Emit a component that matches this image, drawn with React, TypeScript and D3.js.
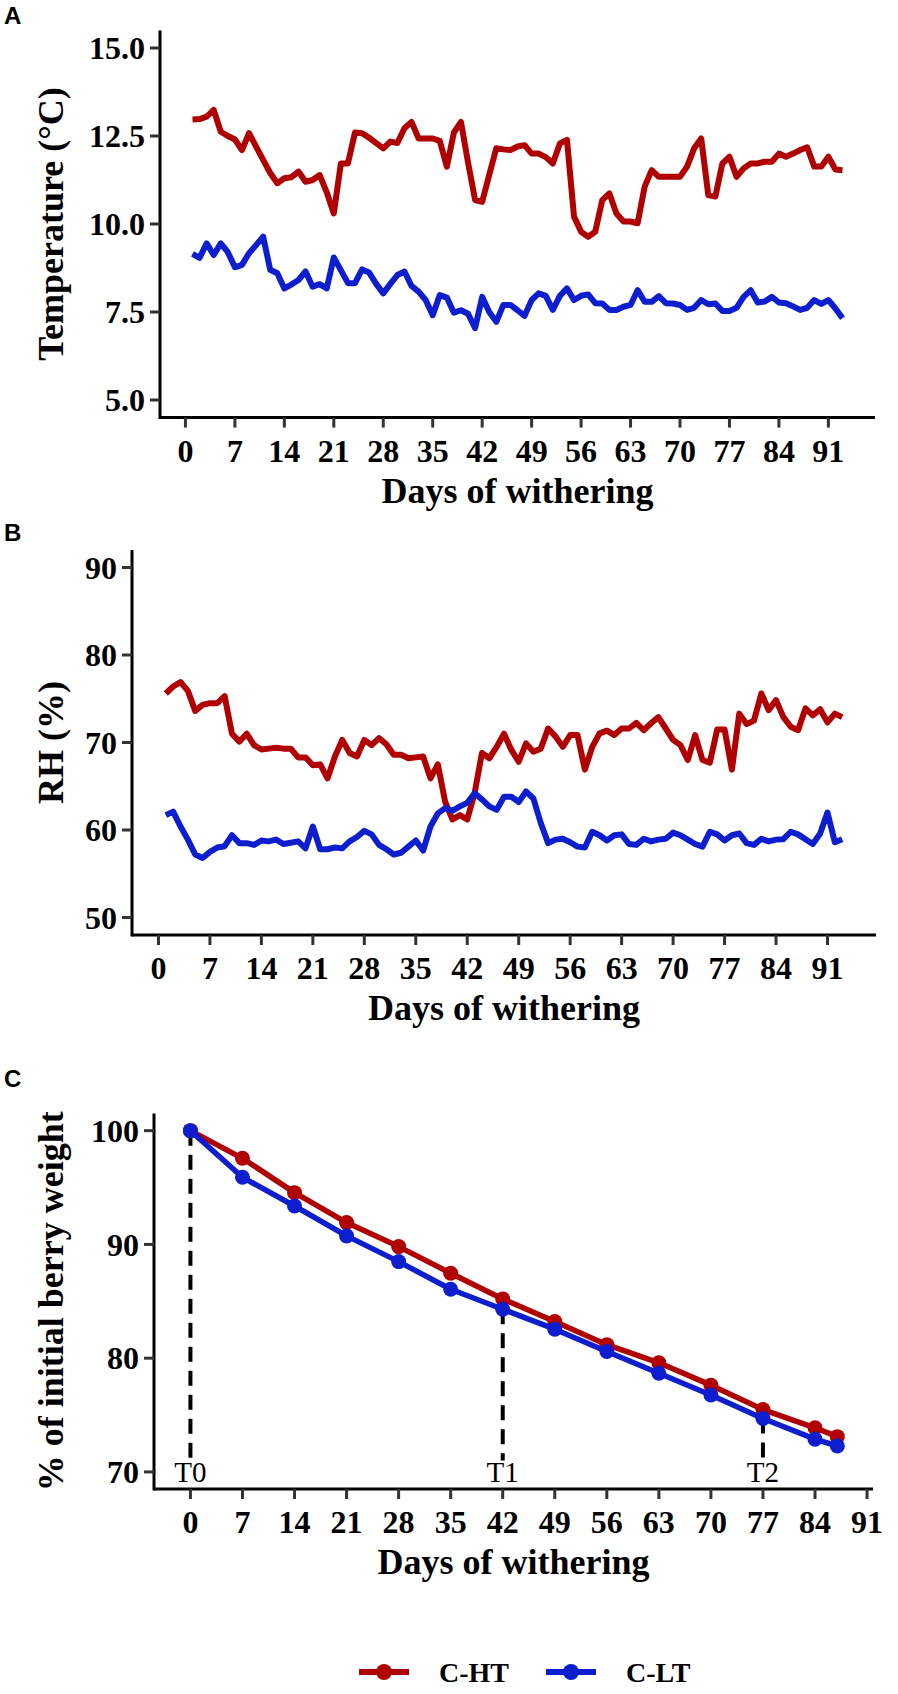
import * as d3 from "d3";
import React from "react";

const W = 898;
const H = 1694;

const red = "#B00000";
const blue = "#0D1ECF";
const serif = "'Liberation Serif', 'Times New Roman', serif";
const sans = "'Liberation Sans', Arial, sans-serif";

// daily series, days 1..93
const days = d3.range(1, 94);

const tempHT = [
  12.97, 12.98, 13.05, 13.24, 12.62, 12.5, 12.4, 12.1, 12.58, 12.2,
  11.82, 11.45, 11.16, 11.3, 11.33, 11.49, 11.2, 11.25, 11.39, 10.9,
  10.3, 11.72, 11.72, 12.6, 12.58, 12.45, 12.3, 12.15, 12.34, 12.3,
  12.72, 12.9, 12.43, 12.43, 12.43, 12.36, 11.63, 12.6, 12.9, 11.75,
  10.68, 10.63, 11.4, 12.15, 12.12, 12.1, 12.2, 12.24, 12.0, 12.0,
  11.9, 11.72, 12.29, 12.39, 10.21, 9.78, 9.64, 9.78, 10.68, 10.87,
  10.3, 10.07, 10.07, 10.02, 11.06, 11.53, 11.34, 11.34, 11.34, 11.34,
  11.63, 12.15, 12.43, 10.82, 10.78, 11.72, 11.91, 11.34, 11.58, 11.72,
  11.72, 11.77, 11.77, 12.0, 11.91, 12.0, 12.1, 12.18, 11.63, 11.63,
  11.91, 11.55, 11.53,
];

const tempLT = [
  9.15, 9.04, 9.45, 9.12, 9.45, 9.2, 8.77, 8.84, 9.17, 9.4,
  9.64, 8.7, 8.6, 8.17, 8.28, 8.41, 8.65, 8.22, 8.29, 8.17,
  9.05, 8.69, 8.32, 8.32, 8.71, 8.62, 8.3, 8.03, 8.3, 8.55,
  8.65, 8.24, 8.08, 7.84, 7.41, 7.98, 7.91, 7.48, 7.55, 7.45,
  7.04, 7.93, 7.5, 7.22, 7.7, 7.7, 7.55, 7.39, 7.84, 8.03,
  7.96, 7.56, 7.96, 8.17, 7.84, 7.96, 8.0, 7.75, 7.74, 7.56,
  7.56, 7.65, 7.7, 8.12, 7.79, 7.79, 7.95, 7.75, 7.74, 7.7,
  7.56, 7.62, 7.84, 7.72, 7.74, 7.53, 7.53, 7.62, 7.93, 8.12,
  7.77, 7.8, 7.93, 7.77, 7.75, 7.66, 7.56, 7.62, 7.84, 7.73,
  7.84, 7.6, 7.32,
];

const rhHT = [
  75.6, 76.4, 76.9, 75.9, 73.6, 74.3, 74.5, 74.5, 75.3, 71.0,
  70.1, 71.0, 69.7, 69.2, 69.3, 69.4, 69.3, 69.3, 68.3, 68.3,
  67.4, 67.5, 65.9, 68.4, 70.3, 68.8, 68.4, 70.3, 69.7, 70.5,
  69.8, 68.6, 68.6, 68.2, 68.3, 68.4, 65.9, 67.5, 63.2, 61.2,
  61.7, 61.2, 64.2, 68.8, 68.2, 69.5, 71.0, 69.15, 67.8, 69.9,
  68.95, 69.3, 71.6, 70.7, 69.5, 70.85, 70.85, 66.9, 69.5, 71.05,
  71.35, 70.85, 71.6, 71.6, 72.25, 71.4, 72.2, 72.9, 71.6, 70.3,
  69.7, 68.0, 70.85, 68.0, 67.7, 71.5, 71.5, 66.9, 73.3, 72.1,
  72.5, 75.6, 73.7, 74.85, 72.9, 71.8, 71.4, 73.9, 73.1, 73.8,
  72.3, 73.3, 72.9,
];

const rhLT = [
  61.7, 62.1, 60.4, 58.9, 57.2, 56.8, 57.5, 58.0, 58.15, 59.4,
  58.5, 58.5, 58.3, 58.8, 58.7, 58.9, 58.4, 58.55, 58.7, 57.9,
  60.4, 57.8, 57.8, 58.0, 57.9, 58.7, 59.2, 59.9, 59.5, 58.3,
  57.8, 57.2, 57.4, 58.1, 58.8, 57.65, 60.4, 61.9, 62.5, 62.2,
  62.7, 63.1, 64.2, 63.5, 62.7, 62.3, 63.8, 63.8, 63.2, 64.4,
  63.6, 60.8, 58.5, 58.9, 59.0, 58.6, 58.1, 58.0, 59.8, 59.4,
  58.8, 59.4, 59.5, 58.4, 58.3, 59.0, 58.7, 58.9, 59.0, 59.7,
  59.4, 58.9, 58.4, 58.1, 59.8, 59.5, 58.8, 59.4, 59.6, 58.5,
  58.3, 59.0, 58.7, 58.9, 58.95, 59.8, 59.5, 58.95, 58.4, 59.6,
  62.0, 58.6, 58.95,
];

// berry weight, sampled weekly
const weightDays = [0, 7, 14, 21, 28, 35, 42, 49, 56, 63, 70, 77, 84, 87];
const weightHT = [100, 97.57, 94.55, 91.92, 89.81, 87.47, 85.21, 83.22, 81.19, 79.59, 77.63, 75.48, 73.88, 73.1];
const weightLT = [100, 95.9, 93.38, 90.75, 88.49, 86.06, 84.3, 82.55, 80.59, 78.68, 76.76, 74.7, 72.88, 72.28];

const samplingDays = [0, 42, 77];
const samplingLabels = ["T0", "T1", "T2"];

const xTicks = d3.range(0, 92, 7);
const tempTicks = [5, 7.5, 10, 12.5, 15];
const rhTicks = [50, 60, 70, 80, 90];
const weightTicks = [70, 80, 90, 100];

const legendLabels = ["C-HT", "C-LT"];

function Panel({ tag, tagY, box, xDomain, yDomain, yTicks, yFmt, yTitle, children }: any) {
  const x = d3.scaleLinear().domain(xDomain).range([box.left, box.right]);
  const y = d3.scaleLinear().domain(yDomain).range([box.bottom, box.top]);
  const cy = (box.top + box.bottom) / 2;
  const cx = (box.left + box.right) / 2;
  return (
    <g>
      <text x={4} y={tagY} fontFamily={sans} fontWeight="bold" fontSize={24}>
        {tag}
      </text>
      {children(x, y)}
      {/* axes */}
      <line x1={box.left} x2={box.right} y1={box.bottom} y2={box.bottom} stroke="#000" strokeWidth={3} />
      <line x1={box.left} x2={box.left} y1={box.top} y2={box.bottom + 1.5} stroke="#000" strokeWidth={3} />
      {xTicks.map((t) => (
        <g key={"x" + t}>
          <line x1={x(t)} x2={x(t)} y1={box.bottom} y2={box.bottom + 10} stroke="#333" strokeWidth={3} />
          <text x={x(t)} y={box.bottom + 44} textAnchor="middle" fontFamily={serif} fontWeight="bold" fontSize={32}>
            {t}
          </text>
        </g>
      ))}
      {yTicks.map((t: number) => (
        <g key={"y" + t}>
          <line x1={box.left - 10} x2={box.left} y1={y(t)} y2={y(t)} stroke="#333" strokeWidth={3} />
          <text x={box.left - 15} y={y(t)} dy="0.35em" textAnchor="end" fontFamily={serif} fontWeight="bold" fontSize={32}>
            {yFmt(t)}
          </text>
        </g>
      ))}
      <text x={cx} y={box.bottom + 85} textAnchor="middle" fontFamily={serif} fontWeight="bold" fontSize={36}>
        Days of withering
      </text>
      <text
        transform={`translate(51,${cy}) rotate(-90)`}
        textAnchor="middle"
        dominantBaseline="central"
        fontFamily={serif}
        fontWeight="bold"
        fontSize={36}
      >
        {yTitle}
      </text>
    </g>
  );
}

function dailyLine(x: any, y: any, vals: number[]) {
  const line = d3
    .line<number>()
    .x((_, i) => x(days[i]))
    .y((d) => y(d));
  return line(vals) as string;
}

export default function App() {
  const boxA = { left: 160, right: 875, top: 30.4, bottom: 417.6 };
  const boxB = { left: 132, right: 876, top: 550, bottom: 935 };
  const boxC = { left: 154, right: 873, top: 1113.6, bottom: 1489 };

  const legendY = 1672;

  return (
    <svg
      width={W}
      height={H}
      viewBox={`0 0 ${W} ${H}`}
      style={{ position: "absolute", left: 0, top: 0, display: "block", background: "#fff" }}
    >
      <rect width={W} height={H} fill="#fff" />

      {/* A: temperature */}
      <Panel
        tag="A"
        tagY={24}
        box={boxA}
        xDomain={[-3.6, 97.6]}
        yDomain={[4.5, 15.5]}
        yTicks={tempTicks}
        yFmt={(t: number) => t.toFixed(1)}
        yTitle="Temperature (°C)"
      >
        {(x: any, y: any) => (
          <g fill="none" strokeWidth={6} strokeLinejoin="round">
            <path d={dailyLine(x, y, tempHT)} stroke={red} />
            <path d={dailyLine(x, y, tempLT)} stroke={blue} />
          </g>
        )}
      </Panel>

      {/* B: relative humidity */}
      <Panel
        tag="B"
        tagY={541}
        box={boxB}
        xDomain={[-3.6, 97.6]}
        yDomain={[48, 92]}
        yTicks={rhTicks}
        yFmt={(t: number) => String(t)}
        yTitle="RH (%)"
      >
        {(x: any, y: any) => (
          <g fill="none" strokeWidth={6} strokeLinejoin="round">
            <path d={dailyLine(x, y, rhHT)} stroke={red} />
            <path d={dailyLine(x, y, rhLT)} stroke={blue} />
          </g>
        )}
      </Panel>

      {/* C: berry weight */}
      <Panel
        tag="C"
        tagY={1087}
        box={boxC}
        xDomain={[-4.9, 91.8]}
        yDomain={[68.5, 101.5]}
        yTicks={weightTicks}
        yFmt={(t: number) => String(t)}
        yTitle="% of initial berry weight"
      >
        {(x: any, y: any) => {
          const line = d3
            .line<number>()
            .x((_, i) => x(weightDays[i]))
            .y((d) => y(d));
          return (
            <g>
              {samplingDays.map((d, i) => {
                const top = weightLT[weightDays.indexOf(d)];
                return (
                  <g key={"t" + d}>
                    <line
                      x1={x(d)}
                      x2={x(d)}
                      y1={y(top)}
                      y2={y(71)}
                      stroke="#000"
                      strokeWidth={4}
                      strokeDasharray="15 9"
                    />
                    <text x={x(d)} y={y(70)} dy="0.35em" textAnchor="middle" fontFamily={serif} fontSize={29}>
                      {samplingLabels[i]}
                    </text>
                  </g>
                );
              })}
              <path d={line(weightHT) as string} fill="none" stroke={red} strokeWidth={5.5} strokeLinejoin="round" />
              {weightHT.map((v, i) => (
                <circle key={"h" + i} cx={x(weightDays[i])} cy={y(v)} r={7.5} fill={red} />
              ))}
              <path d={line(weightLT) as string} fill="none" stroke={blue} strokeWidth={5.5} strokeLinejoin="round" />
              {weightLT.map((v, i) => (
                <circle key={"l" + i} cx={x(weightDays[i])} cy={y(v)} r={7.5} fill={blue} />
              ))}
            </g>
          );
        }}
      </Panel>

      {/* legend */}
      {legendLabels.map((lab, i) => {
        const x0 = i === 0 ? 359 : 546;
        const c = i === 0 ? red : blue;
        return (
          <g key={lab}>
            <line x1={x0} x2={x0 + 50} y1={legendY} y2={legendY} stroke={c} strokeWidth={6} />
            <circle cx={x0 + 25} cy={legendY} r={8} fill={c} />
            <text x={x0 + 80} y={legendY} dy="0.35em" fontFamily={serif} fontWeight="bold" fontSize={28}>
              {lab}
            </text>
          </g>
        );
      })}
    </svg>
  );
}
